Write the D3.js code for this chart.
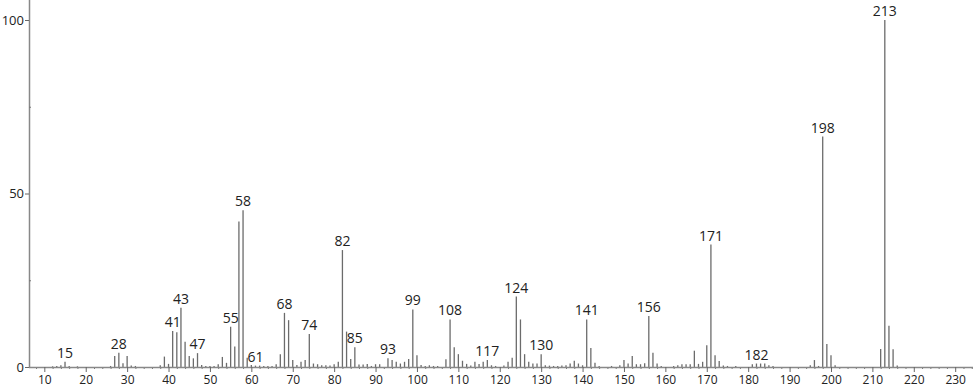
<!DOCTYPE html>
<html>
<head>
<meta charset="utf-8">
<script src="https://cdn.jsdelivr.net/npm/d3@7"></script>
<style>
  body { margin: 0; background: #fff; }
  svg text { font-family: "Open Sans", sans-serif; fill: #222; }
</style>
</head>
<body>
<script>
'use strict'
// m/z values and relative intensities (%)
const mz = [12, 13, 14, 15, 16, 18, 26, 27, 28, 29, 30, 31, 32, 38, 39, 40, 41, 42, 43, 44,
  45, 46, 47, 48, 49, 50, 51, 52, 53, 54, 55, 56, 57, 58, 59, 60, 61, 62, 63, 64,
  65, 66, 67, 68, 69, 70, 71, 72, 73, 74, 75, 76, 77, 78, 79, 80, 81, 82, 83, 84,
  85, 86, 87, 88, 89, 90, 91, 93, 94, 95, 96, 97, 98, 99, 100, 101, 102, 103, 104, 105,
  107, 108, 109, 110, 111, 112, 113, 114, 115, 116, 117, 118, 119, 121, 122, 123, 124, 125, 126, 127,
  128, 129, 130, 131, 132, 133, 134, 135, 136, 137, 138, 139, 140, 141, 142, 143, 144, 147, 149, 150,
  151, 152, 153, 154, 155, 156, 157, 158, 159, 162, 163, 164, 165, 166, 167, 168, 169, 170, 171, 172,
  173, 174, 175, 177, 181, 182, 183, 184, 185, 186, 195, 196, 197, 198, 199, 200, 201, 212, 213, 214,
  215, 216];
const intensity = [0.2, 0.3, 0.5, 1.5, 0.3, 0.2, 0.3, 3.2, 4.1, 1.1, 3.2, 0.4, 0.3, 0.5, 3.0, 0.9, 10.4, 10.0, 17.1, 7.3,
  3.2, 2.5, 4.0, 0.6, 0.3, 0.3, 0.3, 0.8, 2.9, 1.2, 11.6, 5.9, 41.9, 45.2, 2.7, 0.6, 0.4, 0.4, 0.3, 0.3,
  0.3, 0.8, 3.7, 15.6, 13.5, 2.0, 0.6, 1.5, 2.0, 9.5, 1.0, 0.8, 0.5, 0.5, 0.4, 0.8, 1.5, 33.7, 10.2, 2.3,
  5.7, 0.7, 0.7, 0.9, 0.3, 0.8, 0.8, 2.5, 2.0, 1.5, 1.0, 1.5, 2.3, 16.6, 3.4, 0.6, 0.3, 0.5, 0.3, 0.3,
  2.2, 13.7, 5.7, 3.7, 1.8, 0.9, 0.4, 1.5, 0.9, 1.5, 2.0, 0.5, 0.3, 0.4, 1.5, 2.7, 20.3, 13.7, 3.7, 1.5,
  1.0, 1.0, 3.7, 0.5, 0.4, 0.3, 0.3, 0.4, 0.5, 1.0, 1.8, 1.0, 0.5, 13.7, 5.5, 1.2, 0.3, 0.3, 0.5, 2.0,
  1.0, 3.2, 0.8, 0.8, 1.1, 14.7, 4.1, 1.0, 0.3, 0.3, 0.5, 0.8, 0.8, 0.8, 4.7, 0.9, 1.5, 6.3, 35.3, 3.4,
  1.7, 0.4, 0.3, 0.3, 0.8, 1.0, 1.0, 1.0, 0.5, 0.3, 0.5, 2.0, 0.3, 66.4, 6.6, 3.4, 0.5, 5.2, 100, 11.9,
  5.1, 0.4];
const labeled = [15, 28, 41, 43, 47, 55, 58, 61, 68, 74, 82, 85, 93, 99, 108, 117, 124, 130, 141, 156, 171, 182, 198, 213];
const xTicks = d3.range(10, 231, 10);
const xMinor = d3.range(8, 235, 2).filter(d => d % 10 !== 0);
const yTicks = [0, 50, 100];
const yMinor = [25, 75];

const width = 974, height = 389;
const x0 = 29, x1 = 973, y0 = 367, yTop = 20;

const svg = d3.select("body").append("svg")
  .attr("width", width)
  .attr("height", height);

const x = d3.scaleLinear().domain([6.3, 234.3]).range([x0, x1]);
const y = d3.scaleLinear().domain([0, 100]).range([y0, yTop]);

const peaks = mz.map((m, i) => ({ m: m, v: intensity[i] }));

// peaks
svg.selectAll("line.peak")
  .data(peaks)
  .enter()
  .append("line")
  .attr("class", "peak")
  .attr("x1", d => x(d.m))
  .attr("x2", d => x(d.m))
  .attr("y1", y(0))
  .attr("y2", d => y(d.v))
  .attr("stroke", "#6b6b6b")
  .attr("stroke-width", 1.3);

// minor x ticks
svg.append("g")
  .attr("transform", `translate(0,${y0})`)
  .call(d3.axisBottom(x).tickValues(xMinor).tickSize(2).tickFormat("").tickSizeOuter(0))
  .call(g => g.select(".domain").remove())
  .call(g => g.selectAll("line").attr("stroke", "#777"));

// major x axis
svg.append("g")
  .attr("transform", `translate(0,${y0})`)
  .call(d3.axisBottom(x).tickValues(xTicks).tickSize(5).tickPadding(3).tickSizeOuter(0))
  .call(g => g.select(".domain").attr("stroke", "#888").attr("stroke-width", 1.5)
    .attr("d", `M${x0},0.5H${x1}`))
  .call(g => g.selectAll("line").attr("stroke", "#666"))
  .call(g => g.selectAll("text").attr("font-size", 12).attr("fill", "#222")
    .attr("font-family", "Open Sans, sans-serif"));

// y axis
svg.append("g")
  .attr("transform", `translate(${x0},0)`)
  .call(d3.axisLeft(y).tickValues(yTicks).tickSize(4).tickPadding(1).tickSizeOuter(0))
  .call(g => g.select(".domain").attr("stroke", "#888").attr("stroke-width", 1.5)
    .attr("d", `M0.5,0V${y0}`))
  .call(g => g.selectAll("line").attr("stroke", "#666"))
  .call(g => g.selectAll("text").attr("font-size", 13).attr("fill", "#222")
    .attr("font-family", "Open Sans, sans-serif"));

svg.append("g")
  .attr("transform", `translate(${x0},0)`)
  .call(d3.axisRight(y).tickValues(yMinor).tickSize(2).tickFormat("").tickSizeOuter(0))
  .call(g => g.select(".domain").remove())
  .call(g => g.selectAll("line").attr("stroke", "#777"));

// peak labels
svg.selectAll("text.plabel")
  .data(peaks.filter(d => labeled.includes(d.m)))
  .enter()
  .append("text")
  .attr("class", "plabel")
  .attr("x", d => x(d.m))
  .attr("y", d => y(d.v) - 4)
  .attr("text-anchor", "middle")
  .attr("font-size", 14)
  .text(d => d.m);
</script>
</body>
</html>
